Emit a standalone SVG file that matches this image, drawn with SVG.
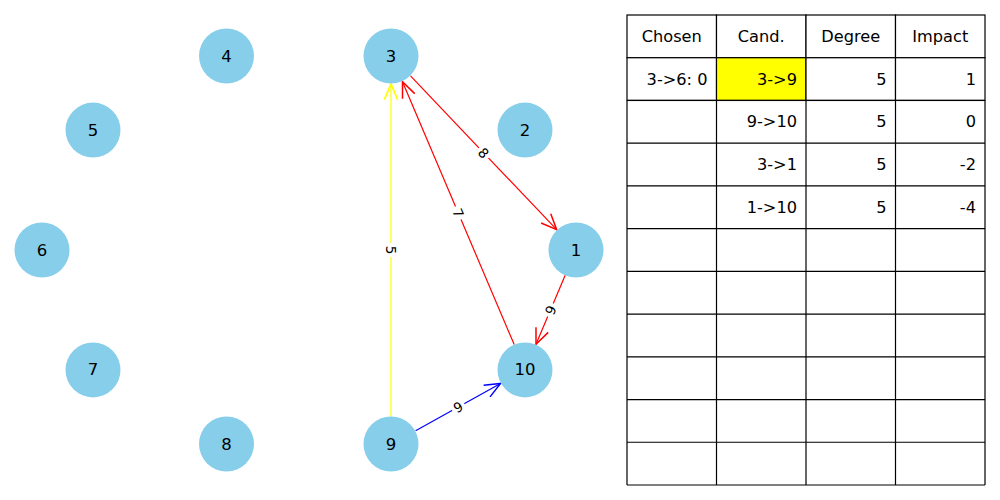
<svg xmlns="http://www.w3.org/2000/svg" width="1000" height="500" viewBox="0 0 1000 500">
  <style>
    .node circle { fill: #87ceeb; }
    .node text { font-family: "DejaVu Sans", sans-serif; font-size: 16.5px; fill: #000; text-anchor: middle; dominant-baseline: central; }
    .edge { fill: none; stroke-width: 1.2; }
    .elabel rect { fill: #fff; }
    .elabel text { font-family: "DejaVu Sans", sans-serif; font-size: 13.5px; fill: #000; text-anchor: middle; dominant-baseline: central; }
    .cell { fill: #fff; stroke: #000; stroke-width: 1.2; }
    .hl { fill: #ffff00; }
    .tt { font-family: "DejaVu Sans", sans-serif; font-size: 16.2px; fill: #000; dominant-baseline: central; }
    .c { text-anchor: middle; }
    .r { text-anchor: end; }
  </style>
  <defs>
    <marker id="ah-red" markerUnits="userSpaceOnUse" markerWidth="20" markerHeight="20" refX="0" refY="0" viewBox="-14 -7 16 14" orient="auto" overflow="visible">
      <path d="M-12.5,-5.3 L0,0 L-12.5,5.3" fill="none" stroke="#ff0000" stroke-width="1.2"/>
    </marker>
    <marker id="ah-blue" markerUnits="userSpaceOnUse" markerWidth="20" markerHeight="20" refX="0" refY="0" viewBox="-14 -7 16 14" orient="auto" overflow="visible">
      <path d="M-12.5,-5.3 L0,0 L-12.5,5.3" fill="none" stroke="#0000ff" stroke-width="1.2"/>
    </marker>
    <marker id="ah-yellow" markerUnits="userSpaceOnUse" markerWidth="20" markerHeight="20" refX="0" refY="0" viewBox="-14 -7 16 14" orient="auto" overflow="visible">
      <path d="M-12.5,-5.3 L0,0 L-12.5,5.3" fill="none" stroke="#ffff00" stroke-width="1.4"/>
    </marker>
  </defs>
  <rect width="1000" height="500" fill="#fff"/>

  <!-- connectors -->
  <g id="edges">
    <line class="edge" x1="391" y1="416.5" x2="391" y2="84" stroke="#ffff00" stroke-width="1.4" marker-end="url(#ah-yellow)"/>
    <line class="edge" x1="410.5" y1="75.9" x2="556.7" y2="229.7" stroke="#ff0000" marker-end="url(#ah-red)"/>
    <line class="edge" x1="514.2" y1="344.6" x2="402.5" y2="81.8" stroke="#ff0000" marker-end="url(#ah-red)"/>
    <line class="edge" x1="565.2" y1="275.3" x2="536.0" y2="344.2" stroke="#ff0000" marker-end="url(#ah-red)"/>
    <line class="edge" x1="415.6" y1="430.7" x2="500.5" y2="383.5" stroke="#0000ff" marker-end="url(#ah-blue)"/>

    <g class="elabel" transform="translate(391,250) rotate(90)"><rect x="-7" y="-9" width="14" height="18"/><text>5</text></g>
    <g class="elabel" transform="translate(483.7,153) rotate(46.4)"><rect x="-7" y="-9" width="14" height="18"/><text>8</text></g>
    <g class="elabel" transform="translate(458.2,213) rotate(66.9)"><rect x="-7" y="-9" width="14" height="18"/><text>7</text></g>
    <g class="elabel" transform="translate(550.5,310) rotate(-67)"><rect x="-7" y="-9" width="14" height="18"/><text>9</text></g>
    <g class="elabel" transform="translate(458.2,407) rotate(-28.9)"><rect x="-7" y="-9" width="14" height="18"/><text>9</text></g>
  </g>

  <!-- nodes -->
  <g id="node-1" class="node"><circle cx="576" cy="250" r="27.5"/><text x="576" y="250">1</text></g>
  <g id="node-2" class="node"><circle cx="525" cy="130.1" r="27.5"/><text x="525" y="130.1">2</text></g>
  <g id="node-3" class="node"><circle cx="391" cy="56" r="27.5"/><text x="391" y="56">3</text></g>
  <g id="node-4" class="node"><circle cx="226.5" cy="56" r="27.5"/><text x="226.5" y="56">4</text></g>
  <g id="node-5" class="node"><circle cx="93" cy="130.1" r="27.5"/><text x="93" y="130.1">5</text></g>
  <g id="node-6" class="node"><circle cx="42" cy="250" r="27.5"/><text x="42" y="250">6</text></g>
  <g id="node-7" class="node"><circle cx="93" cy="369.9" r="27.5"/><text x="93" y="369.9">7</text></g>
  <g id="node-8" class="node"><circle cx="226.5" cy="444" r="27.5"/><text x="226.5" y="444">8</text></g>
  <g id="node-9" class="node"><circle cx="391" cy="444" r="27.5"/><text x="391" y="444">9</text></g>
  <g id="node-10" class="node"><circle cx="525" cy="369.9" r="27.5"/><text x="525" y="369.9">10</text></g>

  <!-- table: columns 627 / 716.5 / 806 / 895.5 / 985, rows of 42.73 from y=15 -->
  <g id="table">
    <g id="grid">
      <rect class="cell" x="627" y="15" width="89.5" height="42.73"/>
      <rect class="cell" x="716.5" y="15" width="89.5" height="42.73"/>
      <rect class="cell" x="806" y="15" width="89.5" height="42.73"/>
      <rect class="cell" x="895.5" y="15" width="89.5" height="42.73"/>

      <rect class="cell" x="627" y="57.73" width="89.5" height="42.73"/>
      <rect class="cell hl" x="716.5" y="57.73" width="89.5" height="42.73"/>
      <rect class="cell" x="806" y="57.73" width="89.5" height="42.73"/>
      <rect class="cell" x="895.5" y="57.73" width="89.5" height="42.73"/>

      <!-- remaining body rows -->
      <path d="M627,100.45 H985 M627,143.18 H985 M627,185.91 H985 M627,228.64 H985 M627,271.36 H985 M627,314.09 H985 M627,356.82 H985 M627,399.55 H985 M627,442.27 H985 M627,485 H985 M627,100.45 V485 M716.5,100.45 V485 M806,100.45 V485 M895.5,100.45 V485 M985,100.45 V485" fill="none" stroke="#000" stroke-width="1.2"/>
    </g>
    <g id="header">
      <text class="tt c" x="671.75" y="36.4">Chosen</text>
      <text class="tt c" x="761.25" y="36.4">Cand.</text>
      <text class="tt c" x="850.75" y="36.4">Degree</text>
      <text class="tt c" x="940.25" y="36.4">Impact</text>
    </g>
    <g id="rows">
      <text class="tt r" x="707.5" y="79.1">3-&gt;6: 0</text>
      <text class="tt r" x="797" y="79.1">3-&gt;9</text>
      <text class="tt r" x="886.5" y="79.1">5</text>
      <text class="tt r" x="976" y="79.1">1</text>

      <text class="tt r" x="797" y="121.8">9-&gt;10</text>
      <text class="tt r" x="886.5" y="121.8">5</text>
      <text class="tt r" x="976" y="121.8">0</text>

      <text class="tt r" x="797" y="164.5">3-&gt;1</text>
      <text class="tt r" x="886.5" y="164.5">5</text>
      <text class="tt r" x="976" y="164.5">-2</text>

      <text class="tt r" x="797" y="207.3">1-&gt;10</text>
      <text class="tt r" x="886.5" y="207.3">5</text>
      <text class="tt r" x="976" y="207.3">-4</text>
    </g>
  </g>
</svg>
